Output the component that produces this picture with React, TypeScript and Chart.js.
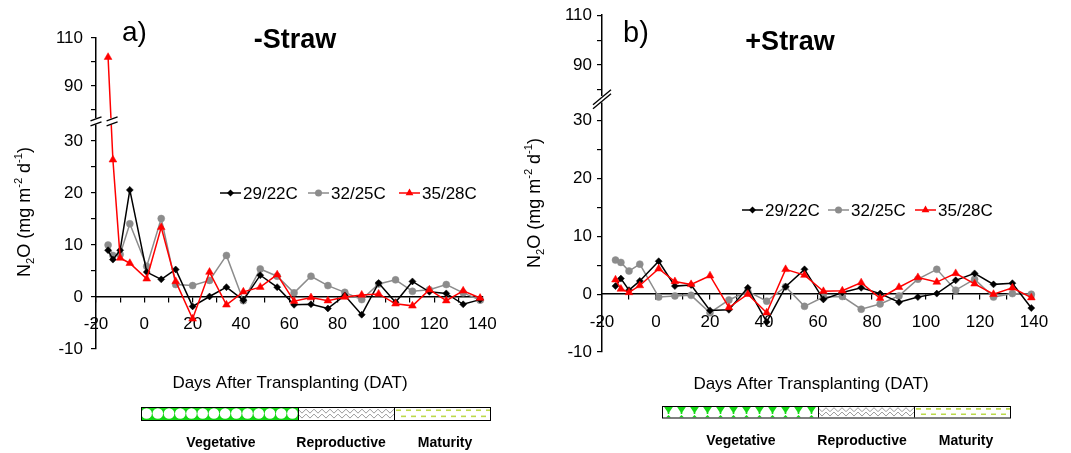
import React, { useEffect, useRef } from 'react';
import { Chart, registerables, LinearScale } from 'chart.js';

Chart.register(...registerables);

// ---------- data ----------
const days = [-15, -13, -10, -6, 1, 7, 13, 20, 27, 34, 41, 48, 55, 62, 69, 76, 83, 90, 97, 104, 111, 118, 125, 132, 139];
const seriesNames = ['29/22C', '32/25C', '35/28C'];

const noStraw2922 = [9.0, 7.2, 9.0, 20.6, 4.8, 3.4, 5.3, -1.8, 0.1, 1.9, -0.6, 4.2, 1.9, -1.5, -1.4, -2.2, 0.3, -3.4, 2.7, -1.0, 3.0, 1.0, 0.7, -1.4, -0.5];
const noStraw3225 = [10.0, 8.0, 8.2, 14.1, 5.9, 15.1, 2.4, 2.2, 3.2, 8.0, -0.7, 5.4, 4.0, 0.8, 4.0, 2.2, 0.9, -0.5, 2.5, 3.3, 1.1, 1.4, 2.4, 0.8, -0.6];
const noStraw3528 = [102, 26.4, 7.5, 6.5, 3.5, 13.4, 3.0, -4.2, 4.8, -1.5, 1.0, 1.9, 4.3, -0.8, -0.1, -0.7, 0.0, 0.4, 0.6, -1.3, -1.7, 1.4, -0.7, 1.2, -0.2];

const straw2922 = [1.4, 2.7, 0.7, 2.3, 5.7, 1.4, 1.6, -2.8, -2.7, 1.1, -4.8, 1.3, 4.3, -0.9, 0.3, 1.1, 0.1, -1.4, -0.5, 0.1, 2.4, 3.6, 1.7, 1.9, -2.4];
const straw3225 = [5.9, 5.5, 4.0, 5.2, -0.5, -0.3, -0.2, -3.2, -1.0, 0.5, -1.2, 1.3, -2.1, -0.5, -0.4, -2.6, -1.7, -0.3, 2.6, 4.3, 0.7, 2.6, -0.5, 0.1, 0.0];
const straw3528 = [2.5, 0.9, 0.3, 1.5, 4.4, 2.2, 1.7, 3.2, -2.3, 0.0, -3.2, 4.3, 3.3, 0.5, 0.6, 2.0, -0.7, 1.2, 2.9, 2.1, 3.6, 1.8, 0.0, 1.1, -0.6];

const xTicks = [-20, -10, 0, 10, 20, 30, 40, 50, 60, 70, 80, 90, 100, 110, 120, 130, 140];
const xTickLabels = [-20, 0, 20, 40, 60, 80, 100, 120, 140];
const yTicks = [-10, -5, 0, 5, 10, 15, 20, 25, 30, 80, 90, 100, 110];
const yTickLabels = [-10, 0, 10, 20, 30, 90, 110];
const phaseNames = ['Vegetative', 'Reproductive', 'Maturity'];

const FONT = "'Liberation Sans', Arial, Helvetica, sans-serif";

// ---------- broken y scale ----------
class BrokenLinearScale extends LinearScale {
  static id = 'brokenLinear';
  static defaults = {};
  getPixelForValue(value: number) {
    const b = (this.options as any).brk;
    if (!b || value == null || isNaN(value)) return super.getPixelForValue(value);
    const top = this.top, bottom = this.bottom;
    const H = bottom - top;
    const lowPx = b.lowFrac * H;
    const highPx = b.highFrac * H;
    const min = this.min, max = this.max;
    if (value <= b.lowMax) return bottom - ((value - min) / (b.lowMax - min)) * lowPx;
    if (value >= b.highMin) return top + ((max - value) / (max - b.highMin)) * highPx;
    const t = (value - b.lowMax) / (b.highMin - b.lowMax);
    return bottom - lowPx - t * (H - lowPx - highPx);
  }
  getValueForPixel(pixel: number) {
    const b = (this.options as any).brk;
    if (!b) return super.getValueForPixel(pixel);
    const top = this.top, bottom = this.bottom;
    const H = bottom - top;
    const lowPx = b.lowFrac * H;
    const highPx = b.highFrac * H;
    const min = this.min, max = this.max;
    if (pixel >= bottom - lowPx) return min + ((bottom - pixel) / lowPx) * (b.lowMax - min);
    if (pixel <= top + highPx) return max - ((pixel - top) / highPx) * (max - b.highMin);
    const t = (bottom - lowPx - pixel) / (H - lowPx - highPx);
    return b.lowMax + t * (b.highMin - b.lowMax);
  }
}
Chart.register(BrokenLinearScale as any);

// ---------- drawing helpers ----------
function drawMarker(ctx: CanvasRenderingContext2D, style: string, x: number, y: number, r: number, color: string) {
  ctx.save();
  ctx.fillStyle = color;
  ctx.beginPath();
  if (style === 'rectRot') {
    ctx.moveTo(x, y - r); ctx.lineTo(x + r, y); ctx.lineTo(x, y + r); ctx.lineTo(x - r, y);
  } else if (style === 'triangle') {
    for (let k = 0; k < 3; k++) {
      const a = k * (2 * Math.PI / 3);
      const px = x + Math.sin(a) * r, py = y - Math.cos(a) * r;
      if (k === 0) ctx.moveTo(px, py); else ctx.lineTo(px, py);
    }
  } else {
    ctx.arc(x, y, r, 0, Math.PI * 2);
  }
  ctx.closePath();
  ctx.fill();
  ctx.restore();
}

function drawSlash(ctx: CanvasRenderingContext2D, cx: number, cy: number, w: number, h: number, sep: number) {
  ctx.save();
  ctx.strokeStyle = '#000';
  ctx.lineWidth = 1.3;
  for (const d of [-sep / 2, sep / 2]) {
    ctx.beginPath();
    ctx.moveTo(cx - w / 2, cy + d + h / 2);
    ctx.lineTo(cx + w / 2, cy + d - h / 2);
    ctx.stroke();
  }
  ctx.restore();
}

function drawPhaseBar(ctx: CanvasRenderingContext2D, bar: any, variant: string) {
  const { x0, x1, x2, x3, y, h } = bar;
  ctx.save();
  ctx.fillStyle = '#fff';
  ctx.fillRect(x0, y, x3 - x0, h);
  // vegetative
  ctx.save();
  ctx.beginPath(); ctx.rect(x0, y, x1 - x0, h); ctx.clip();
  if (variant === 'a') {
    ctx.fillStyle = '#14d814';
    ctx.fillRect(x0, y, x1 - x0, h);
    ctx.fillStyle = '#ffffff';
    const per = (x1 - x0) / 14;
    for (let i = 0; i < 14; i++) {
      const cx = x0 + per * (i + 0.5);
      ctx.beginPath(); ctx.arc(cx, y + h / 2, h / 2 - 1.2, 0, Math.PI * 2); ctx.fill();
    }
  } else {
    ctx.fillStyle = '#14d814';
    const per = (x1 - x0) / 12;
    for (let i = 0; i < 12; i++) {
      const cx = x0 + per * (i + 0.5);
      ctx.beginPath();
      ctx.moveTo(cx - 5, y); ctx.lineTo(cx + 5, y); ctx.lineTo(cx, y + 7.5); ctx.closePath(); ctx.fill();
      ctx.fillRect(cx - 0.8, y + 6, 1.6, 2);
      ctx.beginPath();
      ctx.moveTo(cx - 2.5, y + h); ctx.lineTo(cx + 2.5, y + h); ctx.lineTo(cx, y + h - 2.5); ctx.closePath(); ctx.fill();
    }
  }
  ctx.restore();
  // reproductive zigzag
  ctx.save();
  ctx.beginPath(); ctx.rect(x1, y, x2 - x1, h); ctx.clip();
  ctx.strokeStyle = '#9a9a9a';
  ctx.lineWidth = 1;
  for (const yy of [y + h * 0.32, y + h * 0.7]) {
    ctx.beginPath();
    let up = true;
    for (let xx = x1; xx <= x2 + 5; xx += 4) {
      const py = yy + (up ? -2 : 2);
      if (xx === x1) ctx.moveTo(xx, py); else ctx.lineTo(xx, py);
      up = !up;
    }
    ctx.stroke();
  }
  ctx.restore();
  // maturity dashes
  ctx.save();
  ctx.beginPath(); ctx.rect(x2, y, x3 - x2, h); ctx.clip();
  ctx.strokeStyle = '#bcd94a';
  ctx.lineWidth = 1.6;
  ctx.setLineDash([5, 5]);
  ctx.beginPath(); ctx.moveTo(x2 + 2, y + h * 0.25); ctx.lineTo(x3, y + h * 0.25); ctx.stroke();
  ctx.lineDashOffset = 5;
  ctx.beginPath(); ctx.moveTo(x2 + 2, y + h * 0.72); ctx.lineTo(x3, y + h * 0.72); ctx.stroke();
  ctx.restore();
  // borders
  ctx.strokeStyle = '#000';
  ctx.lineWidth = 1;
  ctx.strokeRect(x0 + 0.5, y + 0.5, x3 - x0, h);
  ctx.beginPath();
  ctx.moveTo(x1 + 0.5, y); ctx.lineTo(x1 + 0.5, y + h);
  ctx.moveTo(x2 + 0.5, y); ctx.lineTo(x2 + 0.5, y + h);
  ctx.stroke();
  ctx.restore();
}

function drawYTitle(ctx: CanvasRenderingContext2D, bx: number, cy: number, size: number) {
  const parts: [string, string][] = [['N', 'n'], ['2', 'sub'], ['O (mg m', 'n'], ['-2', 'sup'], [' d', 'n'], ['-1', 'sup'], [')', 'n']];
  const small = size * 0.62;
  ctx.save();
  let total = 0;
  for (const [t, k] of parts) {
    ctx.font = `${k === 'n' ? size : small}px ${FONT}`;
    total += ctx.measureText(t).width;
  }
  ctx.translate(bx, cy + total / 2);
  ctx.rotate(-Math.PI / 2);
  ctx.fillStyle = '#000';
  ctx.textBaseline = 'alphabetic';
  ctx.textAlign = 'left';
  let x = 0;
  for (const [t, k] of parts) {
    ctx.font = `${k === 'n' ? size : small}px ${FONT}`;
    const dy = k === 'sub' ? size * 0.22 : k === 'sup' ? -size * 0.42 : 0;
    ctx.fillText(t, x, dy);
    x += ctx.measureText(t).width;
  }
  ctx.restore();
}

// ---------- panels ----------
const panels = [
  {
    key: 'a', left: 0, w: 515, yWidth: 96, padTop: 38, padRight: 32.5, padBottom: 104, tickPadY: 8, tickPadX: 12,
    brk: { lowMax: 33, highMin: 77, lowFrac: 0.7187, highFrac: 0.255 },
    series: [noStraw2922, noStraw3225, noStraw3528],
    letter: { text: 'a)', x: 122, y: 41, size: 28 },
    title: { text: '-Straw', x: 295, y: 48 },
    yTitle: { x: 30, cy: 212 },
    xTitle: { x: 290, y: 388 },
    legend: { y: 193, xs: [220, 308, 399] },
    bar: { x0: 141, x1: 298, x2: 394, x3: 490, y: 407, h: 13, ly: 447, lx: [221, 341, 445] },
    slash: { w: 11, h: 4, sep: 5 },
  },
  {
    key: 'b', left: 515, w: 556, yWidth: 87, padTop: 15, padRight: 37, padBottom: 101, tickPadY: 5, tickPadX: 13,
    brk: { lowMax: 33, highMin: 78, lowFrac: 0.738, highFrac: 0.237 },
    series: [straw2922, straw3225, straw3528],
    letter: { text: 'b)', x: 108, y: 42, size: 29 },
    title: { text: '+Straw', x: 275, y: 50 },
    yTitle: { x: 25, cy: 203 },
    xTitle: { x: 296, y: 389 },
    legend: { y: 210, xs: [227, 313, 400] },
    bar: { x0: 147, x1: 303, x2: 399, x3: 495, y: 406, h: 11.5, ly: 445, lx: [226, 347, 451] },
    slash: { w: 18, h: 15, sep: 4 },
  },
];

const styles = [
  { color: '#000000', point: 'rectRot', r: 3.5, order: 1 },
  { color: '#8c8c8c', point: 'circle', r: 3.5, order: 2 },
  { color: '#ff0000', point: 'triangle', r: 4.5, order: 0 },
];

function makeDecor(p: any) {
  return {
    id: 'decor_' + p.key,
    afterDraw(chart: any) {
      const ctx: CanvasRenderingContext2D = chart.ctx;
      const ys = chart.scales.y;
      const area = chart.chartArea;
      const ax = area.left;
      // break gap
      const yHigh = ys.getPixelForValue(p.brk.highMin);
      const yLow = ys.getPixelForValue(p.brk.lowMax);
      const ymid = (yHigh + yLow) / 2;
      ctx.save();
      ctx.fillStyle = '#fff';
      ctx.fillRect(ax - 3, yHigh + 1, area.right - ax + 3, yLow - yHigh - 2);
      ctx.restore();
      drawSlash(ctx, ax, ymid, p.slash.w, p.slash.h, p.slash.sep);
      // slashes on lines crossing the gap
      chart.data.datasets.forEach((ds: any, di: number) => {
        const meta = chart.getDatasetMeta(di);
        for (let i = 0; i < meta.data.length - 1; i++) {
          const a = meta.data[i], b = meta.data[i + 1];
          if ((a.y - ymid) * (b.y - ymid) < 0) {
            const t = (ymid - a.y) / (b.y - a.y);
            const cx = a.x + t * (b.x - a.x);
            drawSlash(ctx, cx + 1, ymid, p.slash.w, p.slash.h, p.slash.sep);
          }
        }
      });
      ctx.save();
      ctx.fillStyle = '#000';
      ctx.font = `${p.letter.size}px ${FONT}`;
      ctx.textAlign = 'left';
      ctx.textBaseline = 'alphabetic';
      ctx.fillText(p.letter.text, p.letter.x, p.letter.y);
      ctx.font = `bold 27px ${FONT}`;
      ctx.textAlign = 'center';
      ctx.fillText(p.title.text, p.title.x, p.title.y);
      ctx.font = `17px ${FONT}`;
      ctx.fillText('Days After Transplanting (DAT)', p.xTitle.x, p.xTitle.y);
      ctx.restore();
      drawYTitle(ctx, p.yTitle.x, p.yTitle.cy, 18);
      // legend
      ctx.save();
      chart.data.datasets.forEach((ds: any, i: number) => {
        const st = styles[i];
        const x = p.legend.xs[i];
        const y = p.legend.y;
        ctx.strokeStyle = st.color;
        ctx.lineWidth = 1.5;
        ctx.beginPath(); ctx.moveTo(x, y); ctx.lineTo(x + 21, y); ctx.stroke();
        drawMarker(ctx, st.point, x + 10.5, y, st.r, st.color);
        ctx.fillStyle = '#000';
        ctx.font = `17px ${FONT}`;
        ctx.textAlign = 'left';
        ctx.textBaseline = 'middle';
        ctx.fillText(ds.label, x + 23, y + 1);
      });
      ctx.restore();
      // phase bar
      drawPhaseBar(ctx, p.bar, p.key);
      ctx.save();
      ctx.fillStyle = '#000';
      ctx.font = `bold 14px ${FONT}`;
      ctx.textAlign = 'center';
      ctx.textBaseline = 'alphabetic';
      phaseNames.forEach((n, i) => ctx.fillText(n, p.bar.lx[i], p.bar.ly));
      ctx.restore();
    },
  };
}

function makeConfig(p: any): any {
  return {
    type: 'line',
    data: {
      datasets: p.series.map((s: number[], i: number) => ({
        label: seriesNames[i],
        data: days.map((d, j) => ({ x: d, y: s[j] })),
        borderColor: styles[i].color,
        backgroundColor: styles[i].color,
        pointBackgroundColor: styles[i].color,
        pointBorderColor: styles[i].color,
        pointStyle: styles[i].point,
        pointRadius: styles[i].r,
        pointBorderWidth: 0.5,
        borderWidth: 1.5,
        tension: 0,
        order: styles[i].order,
        clip: false,
      })),
    },
    options: {
      responsive: false,
      animation: false,
      events: [],
      layout: { padding: { left: 0, right: p.padRight, top: p.padTop, bottom: p.padBottom } },
      plugins: { legend: { display: false }, tooltip: { enabled: false }, title: { display: false } },
      scales: {
        x: {
          type: 'linear',
          min: -20,
          max: 140,
          position: { y: 0 },
          afterBuildTicks: (s: any) => { s.ticks = xTicks.map((v) => ({ value: v })); },
          ticks: {
            autoSkip: false,
            maxRotation: 0,
            padding: p.tickPadX,
            color: '#000',
            font: { family: FONT, size: 17 },
            callback: (v: number) => (xTickLabels.includes(v) ? String(v) : ''),
          },
          grid: { drawOnChartArea: false, drawTicks: true, tickLength: 5, color: '#000', lineWidth: 1.2 },
          border: { display: true, color: '#000', width: 1.5 },
        },
        y: {
          type: 'brokenLinear',
          min: -10,
          max: 110,
          brk: p.brk,
          position: 'left',
          afterFit: (s: any) => { s.width = p.yWidth; },
          afterBuildTicks: (s: any) => { s.ticks = yTicks.map((v) => ({ value: v })); },
          ticks: {
            autoSkip: false,
            padding: p.tickPadY,
            color: '#000',
            font: { family: FONT, size: 17 },
            callback: (v: number) => (yTickLabels.includes(v) ? String(v) : ''),
          },
          grid: { drawOnChartArea: false, drawTicks: true, tickLength: 5, color: '#000', lineWidth: 1.2 },
          border: { display: true, color: '#000', width: 1.5 },
        },
      },
    },
    plugins: [makeDecor(p)],
  };
}

function Panel({ p }: { p: any }) {
  const ref = useRef<HTMLCanvasElement>(null);
  useEffect(() => {
    const chart = new Chart(ref.current as HTMLCanvasElement, makeConfig(p));
    return () => chart.destroy();
  }, [p]);
  return (
    <canvas
      ref={ref}
      width={p.w}
      height={453}
      style={{ position: 'absolute', left: p.left, top: 0, width: p.w, height: 453 }}
    />
  );
}

export default function App() {
  return (
    <div style={{ position: 'fixed', left: 0, top: 0, width: 1071, height: 453, background: '#fff', overflow: 'hidden' }}>
      {panels.map((p) => (
        <Panel key={p.key} p={p} />
      ))}
    </div>
  );
}
